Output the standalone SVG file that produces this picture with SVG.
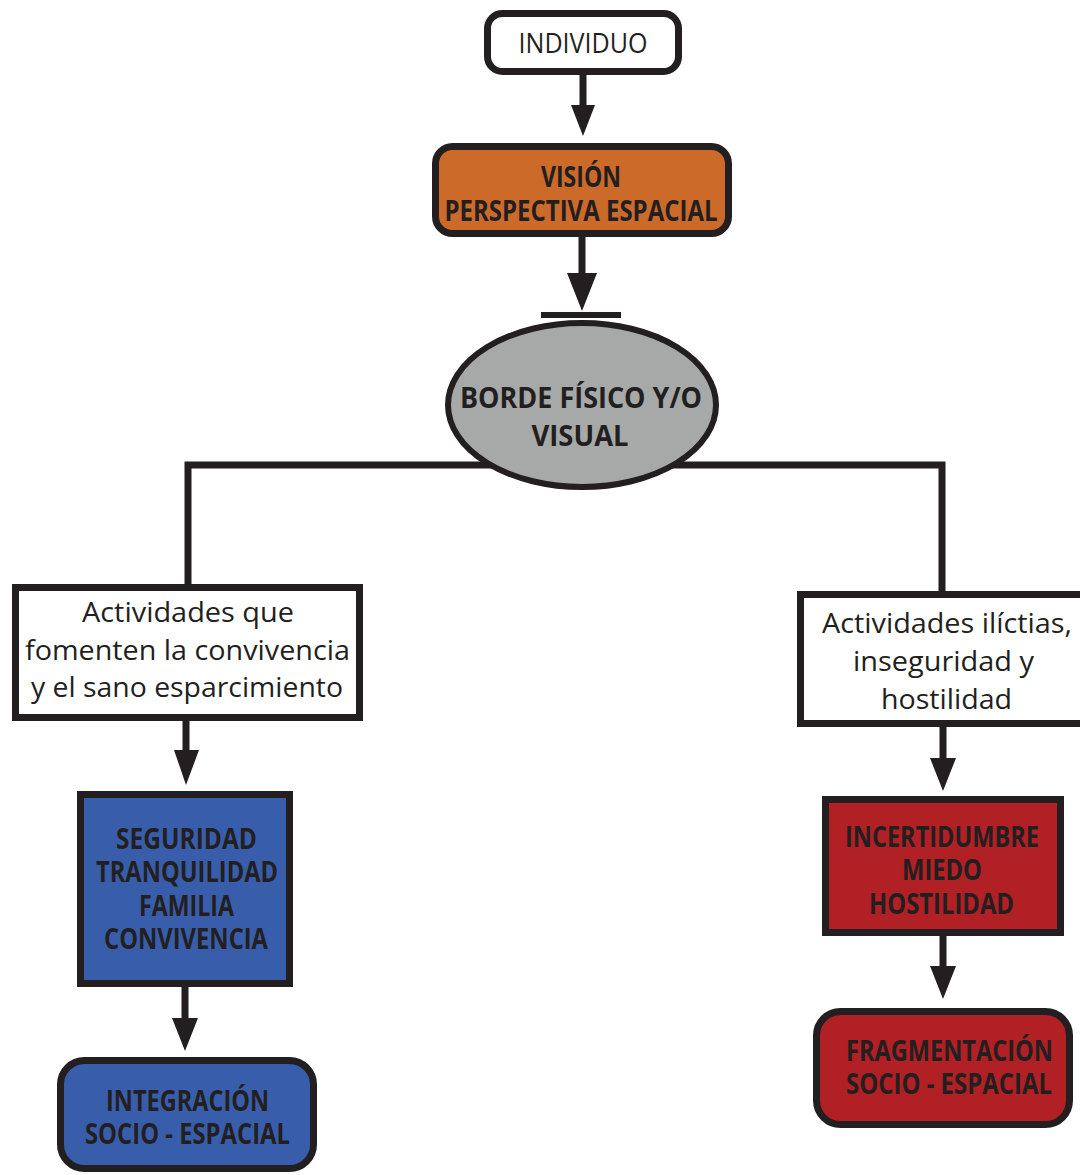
<svg xmlns="http://www.w3.org/2000/svg" width="1080" height="1175" viewBox="0 0 1080 1175">
<style>
.box{stroke:#231f20;stroke-width:7}
.ln{stroke:#231f20;stroke-width:7;fill:none}
.hd{fill:#231f20}
.r{font-family:"Open Sans","Liberation Sans",sans-serif;font-size:27px;fill:#231f20;text-anchor:middle}
.b{font-family:"Open Sans","Liberation Sans",sans-serif;font-weight:bold;font-size:29px;fill:#231f20;text-anchor:middle}
</style>
<rect width="1080" height="1175" fill="#ffffff"/>
<g id="connectors">
<line class="ln" x1="583" y1="75" x2="583" y2="108"/>
<polygon class="hd" points="571,105 595,105 583,136"/>
<line class="ln" x1="582" y1="237" x2="582" y2="276"/>
<polygon class="hd" points="567,273 597,273 582,311"/>
<rect class="hd" x="541" y="312" width="80" height="6"/>
<polyline class="ln" points="520,465 188,465 188,586"/>
<polyline class="ln" points="650,465 942,465 942,593"/>
<line class="ln" x1="186" y1="721" x2="186" y2="753"/>
<polygon class="hd" points="174,750 199,750 186,785"/>
<line class="ln" x1="185" y1="987" x2="185" y2="1021"/>
<polygon class="hd" points="172,1018 198,1018 185,1051"/>
<line class="ln" x1="943" y1="727" x2="943" y2="761"/>
<polygon class="hd" points="930,758 956,758 943,791"/>
<line class="ln" x1="943" y1="936" x2="943" y2="969"/>
<polygon class="hd" points="930,966 956,966 943,999"/>
</g>
<g id="individuo">
<rect class="box" x="487.5" y="13.5" width="191" height="58" rx="15" fill="#ffffff"/>
<text class="r" x="583" y="53" font-size="25" textLength="129" lengthAdjust="spacingAndGlyphs">INDIVIDUO</text>
</g>
<g id="vision">
<rect class="box" x="435.5" y="146.5" width="293" height="87" rx="17" fill="#cc6a2a"/>
<text class="b" x="581" y="187" textLength="80" lengthAdjust="spacingAndGlyphs">VISIÓN</text>
<text class="b" x="581" y="221" textLength="273" lengthAdjust="spacingAndGlyphs">PERSPECTIVA ESPACIAL</text>
</g>
<g id="borde">
<ellipse cx="582" cy="405" rx="134" ry="82" fill="#a7a9a8" stroke="#231f20" stroke-width="6"/>
<text class="b" x="581" y="408" textLength="242" lengthAdjust="spacingAndGlyphs">BORDE FÍSICO Y/O</text>
<text class="b" x="580" y="446" textLength="97" lengthAdjust="spacingAndGlyphs">VISUAL</text>
</g>
<g id="actividades-convivencia">
<rect class="box" x="15.5" y="587.5" width="344" height="130" fill="#ffffff"/>
<text class="r" x="188" y="622" textLength="212" lengthAdjust="spacingAndGlyphs">Actividades que</text>
<text class="r" x="187.5" y="660" textLength="325" lengthAdjust="spacingAndGlyphs">fomenten la convivencia</text>
<text class="r" x="187" y="697" textLength="312" lengthAdjust="spacingAndGlyphs">y el sano esparcimiento</text>
</g>
<g id="seguridad">
<rect class="box" x="80.5" y="794.5" width="209" height="189" fill="#385dab"/>
<text class="b" x="186.5" y="849" textLength="141" lengthAdjust="spacingAndGlyphs">SEGURIDAD</text>
<text class="b" x="187" y="882" textLength="182" lengthAdjust="spacingAndGlyphs">TRANQUILIDAD</text>
<text class="b" x="186.5" y="916" textLength="95" lengthAdjust="spacingAndGlyphs">FAMILIA</text>
<text class="b" x="186" y="949" textLength="164" lengthAdjust="spacingAndGlyphs">CONVIVENCIA</text>
</g>
<g id="integracion">
<rect class="box" x="60.5" y="1060.5" width="253" height="108" rx="24" fill="#385dab"/>
<text class="b" x="187.5" y="1111" textLength="163" lengthAdjust="spacingAndGlyphs">INTEGRACIÓN</text>
<text class="b" x="187.5" y="1144" textLength="205" lengthAdjust="spacingAndGlyphs">SOCIO - ESPACIAL</text>
</g>
<g id="actividades-ilicitas">
<rect class="box" x="800.5" y="594.5" width="290" height="129" fill="#ffffff"/>
<text class="r" x="947" y="633" textLength="250" lengthAdjust="spacingAndGlyphs">Actividades ilíctias,</text>
<text class="r" x="943.5" y="671" textLength="181" lengthAdjust="spacingAndGlyphs">inseguridad y</text>
<text class="r" x="946.5" y="709" textLength="131" lengthAdjust="spacingAndGlyphs">hostilidad</text>
</g>
<g id="incertidumbre">
<rect class="box" x="825.5" y="799.5" width="235" height="133" fill="#b02024"/>
<text class="b" x="942" y="847" textLength="194" lengthAdjust="spacingAndGlyphs">INCERTIDUMBRE</text>
<text class="b" x="942" y="880" textLength="80" lengthAdjust="spacingAndGlyphs">MIEDO</text>
<text class="b" x="941.5" y="914" textLength="145" lengthAdjust="spacingAndGlyphs">HOSTILIDAD</text>
</g>
<g id="fragmentacion">
<rect class="box" x="816.5" y="1011.5" width="253" height="113" rx="24" fill="#b02024"/>
<text class="b" x="949.5" y="1061" textLength="207" lengthAdjust="spacingAndGlyphs">FRAGMENTACIÓN</text>
<text class="b" x="949" y="1094" textLength="206" lengthAdjust="spacingAndGlyphs">SOCIO - ESPACIAL</text>
</g>
</svg>
